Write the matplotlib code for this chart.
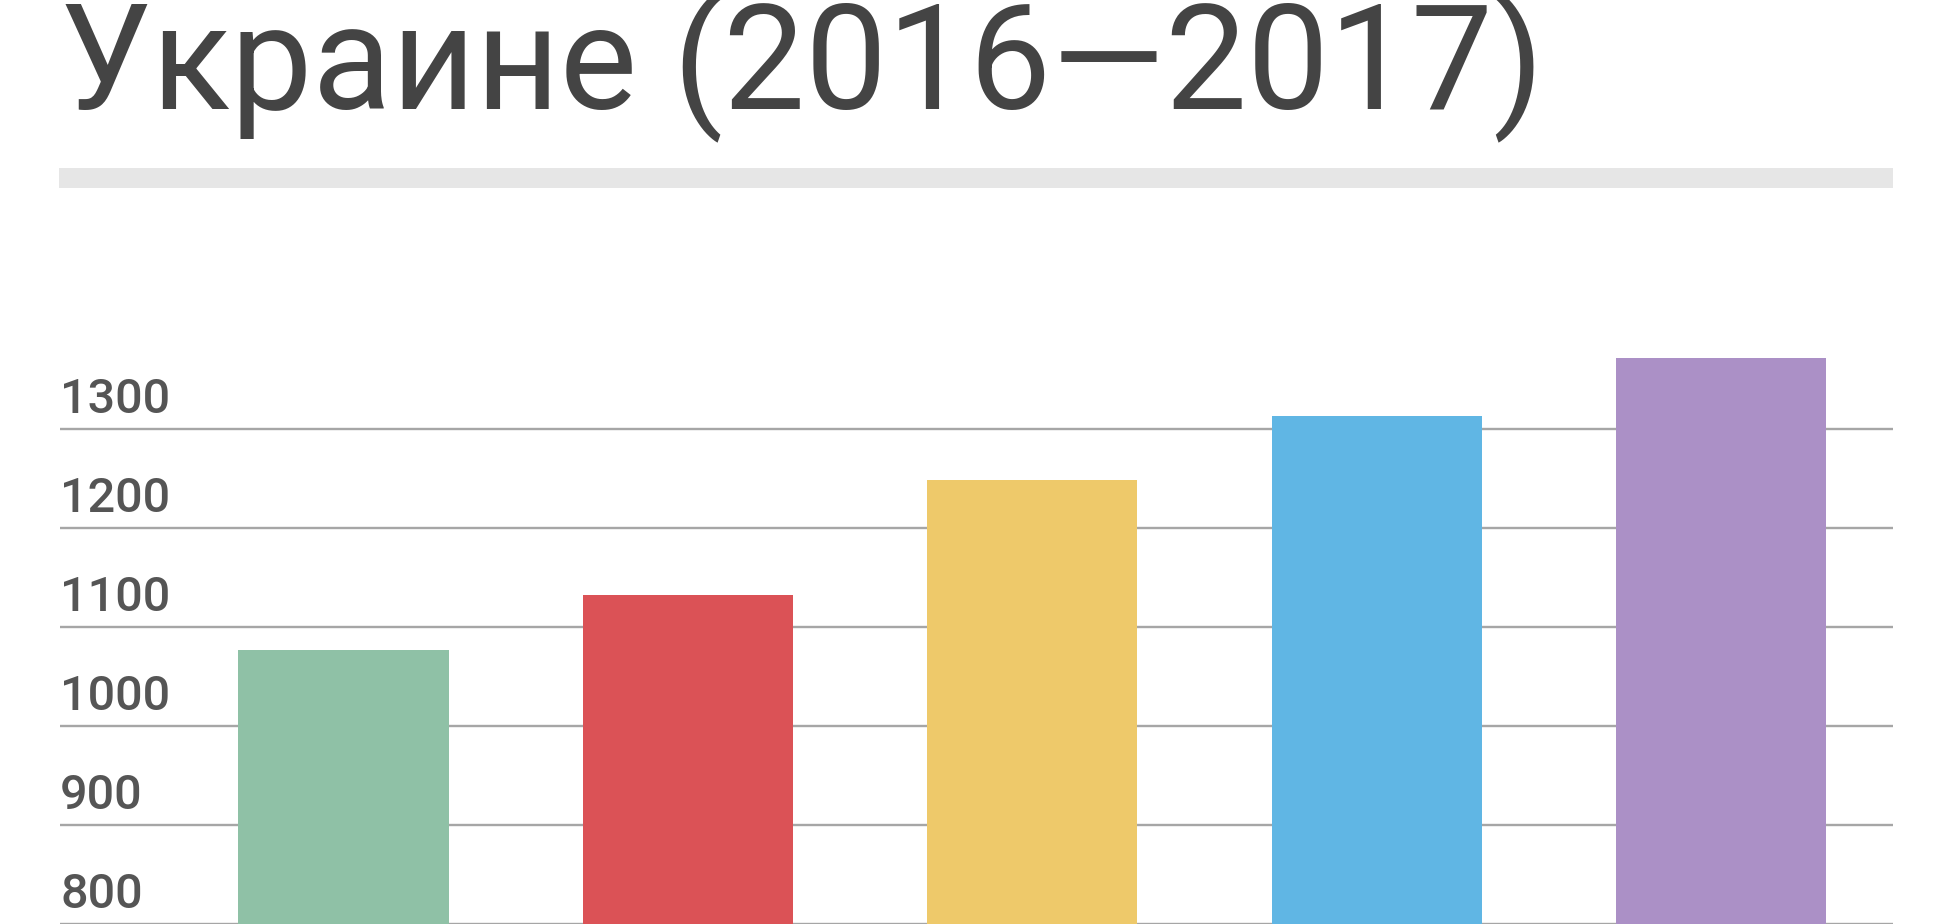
import matplotlib.pyplot as plt
import matplotlib.transforms as mtransforms
from matplotlib.patches import Rectangle

# chart data
title = "Украине (2016—2017)"
values = [1077, 1132, 1248, 1313, 1372]
colors = ["#8fc1a6", "#db5256", "#eec96a", "#60b6e4", "#ab90c6"]
y_ticks = [800, 900, 1000, 1100, 1200, 1300]

plt.rcParams['font.family'] = ['Roboto', 'DejaVu Sans']

fig = plt.figure(figsize=(19.44, 9.24), dpi=100)
fig.patch.set_facecolor('white')

# title (upper part is cut off in the source)
fig.text(0.031, 0.882, title, fontsize=105, color='#444444',
         ha='left', va='baseline')

# light grey separator under the title
fig.patches.append(Rectangle((0.0306, 0.7965), 0.9432, 0.0216,
                             transform=fig.transFigure, facecolor='#e6e6e6',
                             edgecolor='none'))

ax = fig.add_axes([0.0309, 0.0, 0.9429, 0.6429])
x = range(len(values))
ax.bar(x, values, width=0.61, color=colors, zorder=2)

ax.set_ylim(800, 1400)
ax.set_xlim(-0.823, 4.5)
ax.set_yticks(y_ticks)
ax.grid(axis='y', color='#a6a6a6', linewidth=1.7, zorder=0)
ax.set_axisbelow(True)
ax.tick_params(left=False, bottom=False, labelleft=False, labelbottom=False)
for s in ax.spines.values():
    s.set_visible(False)

# tick labels sit above their gridlines
lbl_tr = mtransforms.offset_copy(ax.get_yaxis_transform(), fig=fig, y=16, units='dots')
for t in y_ticks:
    ax.text(0, t, str(t), transform=lbl_tr, ha='left', va='baseline',
            fontsize=35, fontweight='medium', color='#555555', clip_on=False)

fig.savefig('out.png', dpi=100, facecolor='white')
